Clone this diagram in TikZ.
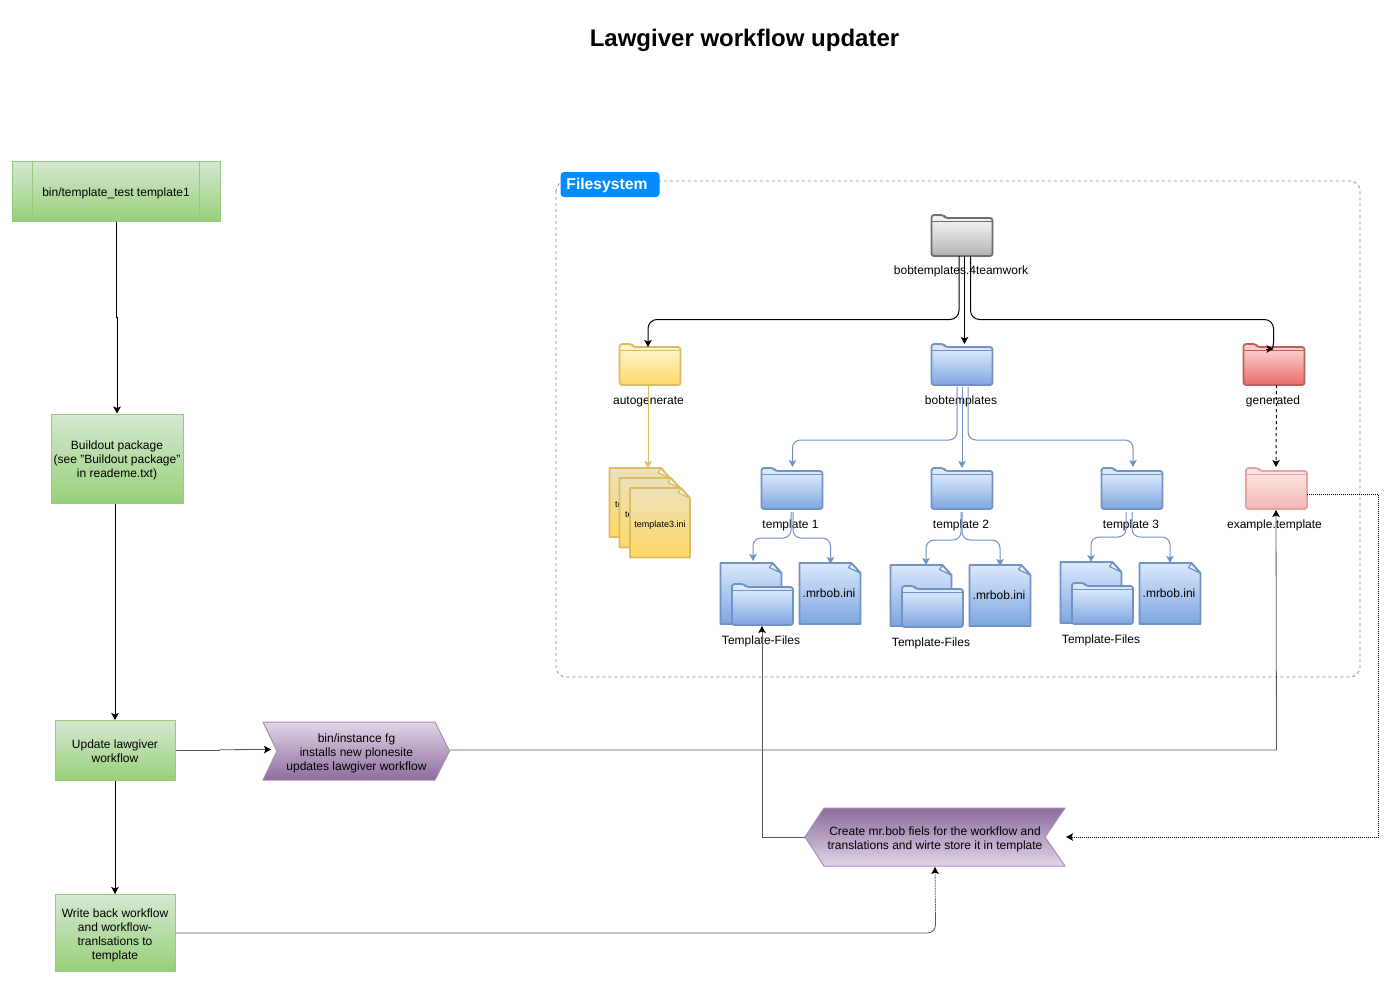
\documentclass[tikz,border=0pt]{standalone}
\usepackage{fontspec}
\setmainfont{Liberation Sans}
\usetikzlibrary{arrows.meta,calc}
\definecolor{gT}{HTML}{D5E8D4}\definecolor{gB}{HTML}{97D077}\definecolor{gS}{HTML}{97C97E}
\definecolor{pT}{HTML}{E1D5E7}\definecolor{pB}{HTML}{8C6C9C}\definecolor{pS}{HTML}{A98BBA}
\definecolor{kT}{HTML}{F0F0F0}\definecolor{kB}{HTML}{B3B3B3}\definecolor{kS}{HTML}{6E6E6E}
\definecolor{yT}{HTML}{FFF2CC}\definecolor{yB}{HTML}{FFD966}\definecolor{yS}{HTML}{DABC62}
\definecolor{yD}{HTML}{EDE0BC}
\definecolor{bT}{HTML}{DAE8FC}\definecolor{bB}{HTML}{7EA6E0}\definecolor{bS}{HTML}{7093C4}
\definecolor{rT}{HTML}{F8CECC}\definecolor{rB}{HTML}{EA6B66}\definecolor{rS}{HTML}{BE5F5B}
\definecolor{eT}{HTML}{FBE3E1}\definecolor{eB}{HTML}{F4B5B3}\definecolor{eS}{HTML}{E3A5A3}
\definecolor{tagblue}{HTML}{008CFF}
\newcommand\lowtext[2]{\raisebox{-#1pt}[\height][\depth]{\begin{tabular}{@{}c@{}}#2\end{tabular}}}
\tikzset{
  x=1pt,y=-1pt,
  base/.style={font=\fontsize{12}{14}\selectfont,align=center,text=black},
  lbl/.style={base,inner sep=0pt},
  greenbox/.style={base,inner sep=0pt,draw=gS,line width=1pt,top color=gT,bottom color=gB},
  anchorbox/.style={inner sep=0pt,outer sep=0pt},
  tip/.style={-{Stealth[length=7pt,width=7.5pt,inset=1.5pt]}},
  flow/.style={tip,black,line width=1pt},
  thin flow/.style={-{Stealth[length=7pt,width=7.5pt,inset=1.5pt,black]},black!65,line width=.8pt},
  blueflow/.style={tip,bS,line width=1pt,rounded corners=8pt},
  fold/.style={line width=1.8pt,line join=round},
}
% name x y top bottom stroke
\newcommand\folderbox[6]{%
  \begin{scope}[shift={(#2,#3)}]
    \path[shade,top color=#4,bottom color=#5,rounded corners=2pt]
      (0,41) -- (0,6) -- (61,6) -- (61,41) -- cycle;
    \path[fill=#4,rounded corners=2pt]
      (0,7) -- (0,0) -- (12,0) -- (14,3) -- (61,3) -- (61,7) -- cycle;
    \path[draw=#6,fold,rounded corners=2.5pt]
      (0,41) -- (0,0) -- (12,0) -- (14,3) -- (61,3) -- (61,41) -- cycle;
    \path[draw=#6,line width=1.2pt] (0.5,6.5) -- (60.5,6.5);
    \node[anchorbox,minimum width=61pt,minimum height=41pt] (#1) at (30.5,20.5) {};
  \end{scope}}
% name x y w h top bottom stroke text
\newcommand\docbox[9]{%
  \begin{scope}[shift={(#2,#3)}]
    \path[shade,top color=#6,bottom color=#7,draw=#8,fold]
      (0,0) -- (#4-9,0) -- (#4,10) -- (#4,#5) -- (0,#5) -- cycle;
    \path[fill=white,fill opacity=.6,draw=#8,line width=1.2pt,line join=round]
      (#4-12,4.5) -- (#4-9,0.5) -- (#4-.5,10) -- cycle;
    \node[anchorbox,minimum width=#4 pt,minimum height=#5 pt] (#1) at (#4/2,#5/2) {#9};
  \end{scope}}
\begin{document}
\begin{tikzpicture}
\useasboundingbox[fill=white] (0,0) rectangle (1398,991);

\node[font=\fontsize{24}{28}\selectfont\bfseries,inner sep=0pt] (title) at (744.5,40.5) {Lawgiver workflow updater};

% container
\draw[kS!80,line width=.8pt,dash pattern=on 3pt off 3pt,rounded corners=10pt] (556,181) rectangle (1360,677);
\node[fill=tagblue,rounded corners=3.5pt,minimum width=99pt,minimum height=25pt,inner sep=0pt,text=white,font=\fontsize{15.7}{18}\selectfont\bfseries] (tag) at (610,184.5) {\hspace*{-6pt}\raisebox{-1pt}[\height][\depth]{Filesystem}};

% green process boxes
\node[greenbox,minimum width=208pt,minimum height=60pt] (start) at (116,191) {\lowtext{3}{bin/template\_test template1}};
\draw[gS,line width=1pt] ($(start.north west)+(21,0)$) -- ($(start.south west)+(21,0)$);
\draw[gS,line width=1pt] ($(start.north east)+(-21,0)$) -- ($(start.south east)+(-21,0)$);
\node[greenbox,minimum width=132pt,minimum height=89pt] (buildout) at (117,458.5) {\lowtext{2}{Buildout package\\(see "Buildout package"\\in reademe.txt)}};
\node[greenbox,minimum width=120pt,minimum height=60pt] (update) at (115,750.5) {\lowtext{2}{Update lawgiver\\workflow}};
\node[greenbox,minimum width=120pt,minimum height=77pt] (writeback) at (115,933) {\lowtext{3}{Write back workflow\\and workflow-\\tranlsations to\\template}};

% chevrons
\path[shade,top color=pT,bottom color=pB,draw=pS,line width=1pt,line join=round]
  (263,722) -- (435,722) -- (449.5,751) -- (435,780) -- (263,780) -- (277,751) -- cycle;
\node[base,anchorbox,minimum width=187pt,minimum height=58pt] (chevA) at (356.5,751) {\lowtext{3}{bin/instance fg\\installs new plonesite\\updates lawgiver workflow}};
\path[shade,top color=pB,bottom color=pT,draw=pS,line width=1pt,line join=round]
  (805,837) -- (824,808) -- (1065,808) -- (1045,837) -- (1065,866) -- (824,866) -- cycle;
\node[base,anchorbox,minimum width=260pt,minimum height=58pt] (chevB) at (935,837) {\lowtext{2.5}{Create mr.bob fiels for the workflow and\\translations and wirte store it in template}};

% folders
\folderbox{root}{931.5}{215}{kT}{kB}{kS}
\folderbox{auto}{619.5}{344}{yT}{yB}{yS}
\folderbox{bobt}{931.5}{344}{bT}{bB}{bS}
\folderbox{gen}{1243.5}{344}{rT}{rB}{rS}
\folderbox{tone}{761.5}{468}{bT}{bB}{bS}
\folderbox{ttwo}{931.5}{468}{bT}{bB}{bS}
\folderbox{tthree}{1101.5}{468}{bT}{bB}{bS}
\folderbox{example}{1246}{468}{eT}{eB}{eS}

% yellow documents
\docbox{yone}{609.5}{468}{60.5}{69}{yD}{yB}{yS}{\hspace*{2pt}\fontsize{9}{11}\selectfont\lowtext{3}{template1.ini}}
\docbox{ytwo}{619.5}{478}{60.5}{69.5}{yD}{yB}{yS}{\hspace*{2pt}\fontsize{9}{11}\selectfont\lowtext{3}{template2.ini}}
\docbox{ythree}{630}{488}{60}{69.5}{yD}{yB}{yS}{\fontsize{9}{11}\selectfont\lowtext{3}{template3.ini}}

% template documents
\docbox{docone}{720.5}{563}{61}{61}{bT}{bB}{bS}{}
\folderbox{subone}{732}{584}{bT}{bB}{bS}
\docbox{mrone}{799.5}{563}{61}{61}{bT}{bB}{bS}{\fontsize{12}{14}\selectfont\hspace*{-2pt}\lowtext{1.5}{.mrbob.ini}}
\docbox{doctwo}{890.5}{565}{61}{61}{bT}{bB}{bS}{}
\folderbox{subtwo}{902}{586}{bT}{bB}{bS}
\docbox{mrtwo}{969.5}{565}{61}{61}{bT}{bB}{bS}{\fontsize{12}{14}\selectfont\hspace*{-2pt}\lowtext{1.5}{.mrbob.ini}}
\docbox{docthree}{1060.5}{562}{61}{61}{bT}{bB}{bS}{}
\folderbox{subthree}{1072}{583}{bT}{bB}{bS}
\docbox{mrthree}{1139.5}{563}{61}{61}{bT}{bB}{bS}{\fontsize{12}{14}\selectfont\hspace*{-2pt}\lowtext{1.5}{.mrbob.ini}}

% labels
\node[lbl] (lroot) at (961,271) {bobtemplates.4teamwork};
\node[lbl] (lauto) at (648.5,401.5) {autogenerate};
\node[lbl] (lbobt) at (961,401.5) {bobtemplates};
\node[lbl] (lgen) at (1273,401.5) {generated};
\node[lbl] (lone) at (790.5,525) {template 1};
\node[lbl] (ltwo) at (961,525) {template 2};
\node[lbl] (lthree) at (1131,525) {template 3};
\node[lbl] (lex) at (1274.5,525) {example.template};
\node[lbl] (lfone) at (761,641) {Template-Files};
\node[lbl] (lftwo) at (931,643) {Template-Files};
\node[lbl] (lfthree) at (1101,640) {Template-Files};

% main flow
\draw[flow] (start.south) -- ++(0,96) -- ++(1,0) -- (buildout.north);
\draw[flow] ($(buildout.south)+(-2,0)$) -- (update.north);
\draw[flow] (update.south) -- (writeback.north);
\draw[thin flow,-] (update.east) -- ++(44,0) -- ++(0,-.8) coordinate (jog);
\draw[thin flow] (jog) -- ($(chevA.west)+(8,-1.5)$);
\draw[thin flow] ($(chevA.east)+(0,-1)$) -- ++(826.5,0) -- ($(example.south)+(-0.5,1)$);
\draw[thin flow] (chevB.west) -- ++(-43,0) -- ($(subone.south)+(-.5,1)$);
\draw[thin flow,-,rounded corners=8pt] (writeback.east) -- ++(760,0) -- ++(0,-20) coordinate (wbup);
\draw[thin flow,dash pattern=on 1pt off .6pt] (wbup) -- ($(chevB.south)+(0,1)$);
\draw[tip,black,line width=.8pt,dash pattern=on 1pt off 1pt] ($(example.east)+(0,5.5)$) -- ++(71.5,0) |- ($(chevB.east)+(1,0)$);

% filesystem tree
\draw[flow,rounded corners=9pt] ($(root.south)+(-3,0)$) -- ++(0,63.5) -| ($(auto.north)+(-2,3)$);
\draw[flow] ($(root.south)+(2.5,0)$) -- ($(bobt.north)+(2.5,0)$);
\draw[black,line width=1pt,rounded corners=9pt] ($(root.south)+(8.5,0)$) -- ++(0,63.5) -- ++(303,0) -- ++(0,23) coordinate (genbend);
\draw[black,line width=1pt] (genbend) .. controls ++(0,2) and ++(-.5,3) .. ($(genbend)+(-1,5)$);
\draw[flow] ($(gen.north)+(-8,5)$) -- ($(gen.north)+(-.5,5)$);

\draw[tip,yS,line width=1pt] ($(auto.south)+(-2,0)$) -- ($(yone.north)+(8.25,0)$);
\draw[tip,black,line width=1pt,dash pattern=on 3pt off 3pt] ($(gen.south)+(2.5,0)$) -- ($(example.north)+(-0.5,-1)$);

\draw[blueflow] ($(bobt.south)+(-5,2)$) -- ++(0,53) -| ($(tone.north)+(.5,-1)$);
\draw[blueflow] ($(bobt.south)+(0,2)$) -- ($(ttwo.north)+(0,0)$);
\draw[blueflow] ($(bobt.south)+(6,2)$) -- ++(0,53) -| ($(tthree.north)+(1,-1)$);

\draw[blueflow] ($(tone.south)+(-1,3)$) -- ++(0,26) -| ($(docone.north)+(2,-2)$);
\draw[blueflow] ($(tone.south)+(1,3)$) -- ++(0,26) -| ($(mrone.north)+(.5,1)$);
\draw[blueflow] ($(ttwo.south)+(-1,3)$) -- ++(0,28) -| ($(doctwo.north)+(5,0)$);
\draw[blueflow] ($(ttwo.south)+(0,3)$) -- ++(0,28) -| ($(mrtwo.north)+(0,1)$);
\draw[blueflow] ($(tthree.south)+(-6,3)$) -- ++(0,25) -| ($(docthree.north)+(0,0)$);
\draw[blueflow] ($(tthree.south)+(0,3)$) -- ++(0,25) -| ($(mrthree.north)+(0,0)$);
\end{tikzpicture}
\end{document}
